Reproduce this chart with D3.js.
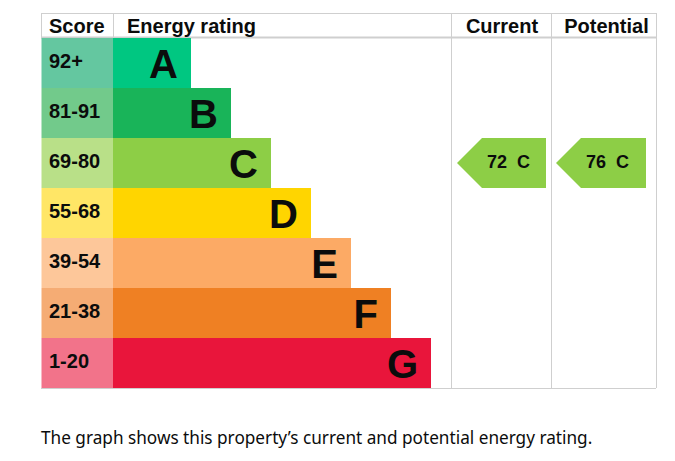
<!DOCTYPE html>
<html>
<head>
<meta charset="utf-8">
<script src="https://cdn.jsdelivr.net/npm/d3@7"></script>
<style>
  body { margin: 0; background: #fff; }
  svg { display: block; }
</style>
</head>
<body>
<svg width="675" height="461"></svg>
<script>
const BANDS = ["A", "B", "C", "D", "E", "F", "G"];
const SCORES = ["92+", "81-91", "69-80", "55-68", "39-54", "21-38", "1-20"];
const MIN_SCORE = [92, 81, 69, 55, 39, 21, 1];
const BAR_COLORS = ["#00c781", "#19b459", "#8dce46", "#ffd500", "#fcaa65", "#ef8023", "#e9153b"];
const SCORE_COLORS = ["#64c7a0", "#72ca8b", "#b9e088", "#ffe666", "#fdc79a", "#f5ac74", "#f2738a"];
const CURRENT = 72;
const POTENTIAL = 76;
const COLUMNS = ["Score", "Energy rating", "Current", "Potential"];

const svg = d3.select("svg");
const font = "'Liberation Sans', Arial, sans-serif";
const grid = "#cfcfcf";

const left = 41, scoreRight = 113, curLeft = 451, potLeft = 551, right = 656;
const tableTop = 13, headBottom = 38, tableBottom = 388;

const y = d3.scaleBand()
  .domain(BANDS)
  .range([headBottom, tableBottom]);

// bar right edge grows one step per band
const x = d3.scaleLinear()
  .domain([0, BANDS.length - 1])
  .range([191, 431]);

const bandOf = s => BANDS[MIN_SCORE.findIndex(m => s >= m)];

// header
svg.append("line").attr("x1", left).attr("x2", right).attr("y1", tableTop + 0.5).attr("y2", tableTop + 0.5)
  .attr("stroke", grid).attr("stroke-width", 1);
svg.append("line").attr("x1", left).attr("x2", right).attr("y1", headBottom - 0.5).attr("y2", headBottom - 0.5)
  .attr("stroke", grid).attr("stroke-width", 2);
svg.append("line").attr("x1", left).attr("x2", right).attr("y1", tableBottom + 0.5).attr("y2", tableBottom + 0.5)
  .attr("stroke", grid).attr("stroke-width", 1);

[[left, tableTop, headBottom], [scoreRight, tableTop, headBottom], [curLeft, tableTop, tableBottom], [potLeft, tableTop, tableBottom], [right, tableTop, tableBottom]]
  .forEach(([vx, y1, y2]) => {
    svg.append("line").attr("x1", vx + 0.5).attr("x2", vx + 0.5).attr("y1", y1).attr("y2", y2)
      .attr("stroke", grid).attr("stroke-width", 1);
  });

const headX = [{t: COLUMNS[0], x: 49, a: "start"}, {t: COLUMNS[1], x: 127, a: "start"},
  {t: COLUMNS[2], x: (curLeft + potLeft) / 2 + 1, a: "middle"}, {t: COLUMNS[3], x: (potLeft + right) / 2 + 3, a: "middle"}];
svg.selectAll(".head").data(headX).enter().append("text")
  .attr("x", d => d.x).attr("y", 32.5)
  .attr("text-anchor", d => d.a)
  .attr("font-family", font).attr("font-weight", "bold").attr("font-size", 20)
  .attr("fill", "#0b0c0c")
  .text(d => d.t);

// rows
const rows = svg.selectAll(".row").data(BANDS).enter().append("g");

rows.append("rect")
  .attr("x", left + 0.5).attr("y", d => y(d))
  .attr("width", scoreRight - left - 0.5).attr("height", y.bandwidth())
  .attr("fill", (d, i) => SCORE_COLORS[i]);

rows.append("rect")
  .attr("x", scoreRight).attr("y", d => y(d))
  .attr("width", (d, i) => x(i) - scoreRight).attr("height", y.bandwidth())
  .attr("fill", (d, i) => BAR_COLORS[i]);

rows.append("text")
  .attr("x", 49).attr("y", d => y(d) + y.bandwidth() / 2 + 5)
  .attr("font-family", font).attr("font-weight", "bold").attr("font-size", 20)
  .attr("fill", "#0b0c0c")
  .text((d, i) => SCORES[i]);

rows.append("text")
  .attr("x", (d, i) => x(i) - 13).attr("y", d => y(d) + y.bandwidth() / 2 + 14.5)
  .attr("text-anchor", "end")
  .attr("font-family", font).attr("font-weight", "bold").attr("font-size", 40)
  .attr("fill", "#0b0c0c")
  .text(d => d);

// current / potential arrows
const arrows = [{v: CURRENT, x0: curLeft + 6, x1: potLeft - 5}, {v: POTENTIAL, x0: potLeft + 5, x1: right - 10}];
arrows.forEach(a => {
  const b = bandOf(a.v);
  const y0 = y(b), h = y.bandwidth();
  svg.append("path")
    .attr("d", `M${a.x0},${y0 + h / 2} L${a.x0 + h / 2},${y0} L${a.x1},${y0} L${a.x1},${y0 + h} L${a.x0 + h / 2},${y0 + h} Z`)
    .attr("fill", BAR_COLORS[BANDS.indexOf(b)]);
  svg.append("text")
    .attr("x", a.x0 + 30).attr("y", y0 + h / 2 + 5)
    .attr("font-family", font).attr("font-weight", "bold").attr("font-size", 18)
    .attr("fill", "#0b0c0c")
    .attr("xml:space", "preserve")
    .text(a.v + "  " + b);
});

svg.append("text")
  .attr("x", left).attr("y", 444)
  .attr("font-family", "'Noto Sans', sans-serif").attr("font-size", 17.2)
  .attr("fill", "#0b0c0c")
  .text("The graph shows this property\u2019s current and potential energy rating.");
</script>
</body>
</html>
